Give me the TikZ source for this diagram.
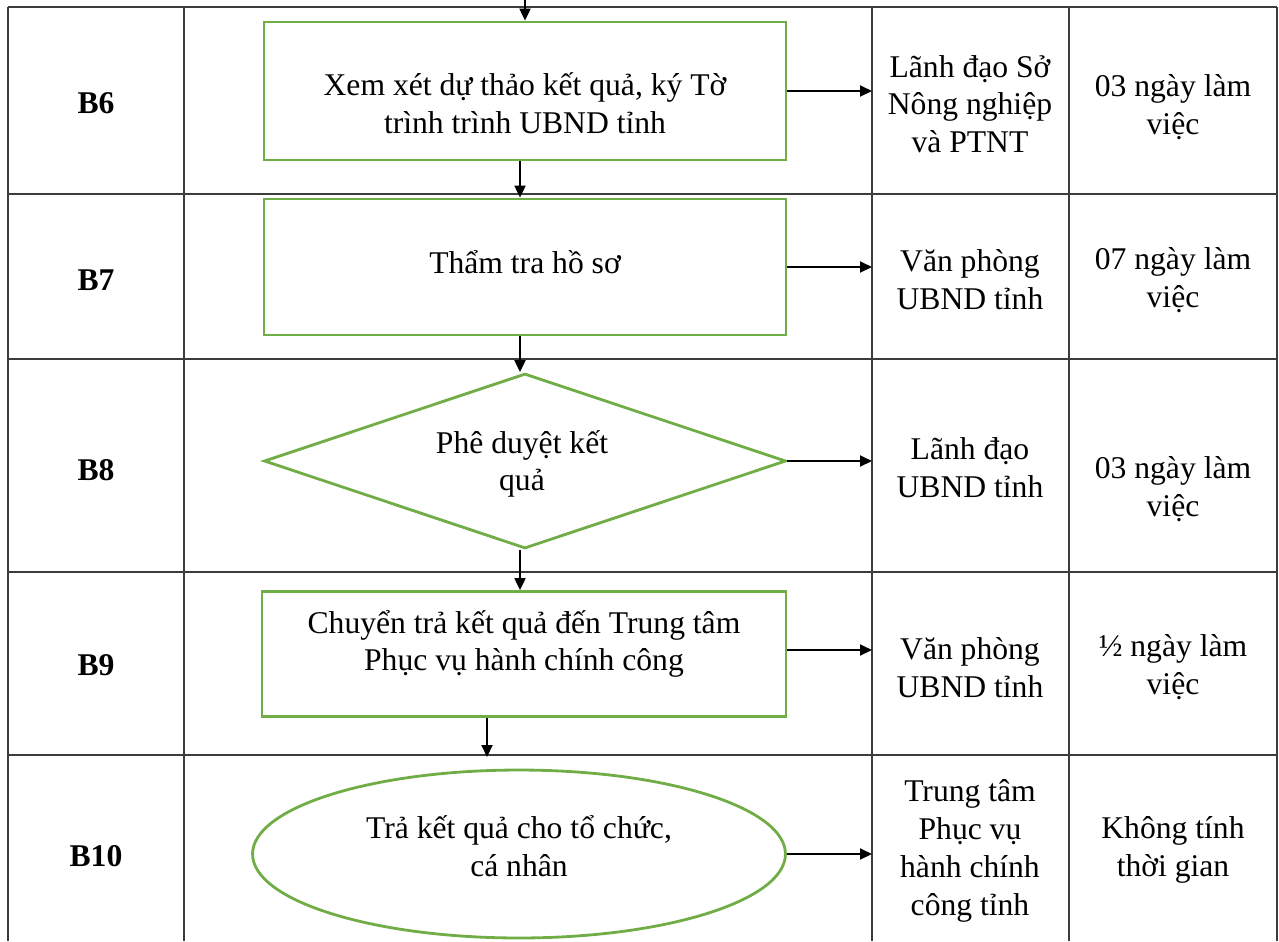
\documentclass[tikz,border=0pt]{standalone}
\usepackage{fontspec}
\setmainfont{Liberation Serif}
\usetikzlibrary{shapes.geometric,arrows.meta}

\definecolor{stepgreen}{RGB}{112,173,71}
\definecolor{gridgray}{RGB}{60,60,60}

\begin{document}
\begin{tikzpicture}[
  x=0.02cm, y=-0.02cm,
  every node/.style={font=\fontsize{18}{21.5}\selectfont, align=center},
  box/.style={draw=stepgreen, line width=1.6pt, rectangle, inner sep=0pt},
  decide/.style={draw=stepgreen, line width=1.6pt, diamond, inner sep=0pt},
  finish/.style={draw=stepgreen, line width=1.6pt, ellipse, inner sep=0pt},
  grid/.style={draw=gridgray, line width=1pt},
  arrow/.style={-{Triangle[length=0.24cm,width=0.22cm]}, line width=1.1pt},
  code/.style={font=\fontsize{18}{21.5}\selectfont\bfseries}
]
\useasboundingbox (0,0) rectangle (1279,941);

% Table grid
\foreach \gx in {8,184,872,1069,1277}
  \draw[grid] (\gx,7) -- (\gx,941);
\foreach \gy in {7,194,359,572,755}
  \draw[grid] (8,\gy) -- (1277,\gy);
\coordinate (col3) at (872,0);

% Step codes
\node[code] (b6) at (96,103) {B6};
\node[code] (b7) at (96,280) {B7};
\node[code] (b8) at (96,470) {B8};
\node[code] (b9) at (96,665) {B9};
\node[code] (b10) at (96,856) {B10};

% Flow shapes
\node[box, minimum width=10.44cm, minimum height=2.76cm] (s6) at (525,91) {};
\node[box, minimum width=10.44cm, minimum height=2.72cm] (s7) at (525,267) {};
\node[decide, minimum width=10.44cm, minimum height=3.5cm] (s8) at (525,461) {};
\node[box, minimum width=10.48cm, minimum height=2.5cm] (s9) at (524,654) {};
\node[finish, minimum width=10.66cm, minimum height=3.36cm] (s10) at (519,854) {};

% Shape texts
\node (t6) at (525,103) {Xem xét dự thảo kết quả, ký Tờ\\trình trình UBND tỉnh};
\node (t7) at (525,262) {Thẩm tra hồ sơ};
\node (t8) at (522,464) {Phê duyệt kết\\quả};
\node (t9) at (524,644) {Chuyển trả kết quả đến Trung tâm\\Phục vụ hành chính công};
\node (t10) at (519,846) {Trả kết quả cho tổ chức,\\cá nhân};

% Who does it
\node (who6) at (970,104) {Lãnh đạo Sở\\Nông nghiệp\\và PTNT};
\node (who7) at (970,280) {Văn phòng\\UBND tỉnh};
\node (who8) at (970,468) {Lãnh đạo\\UBND tỉnh};
\node (who9) at (970,668) {Văn phòng\\UBND tỉnh};
\node (who10) at (970,851) {Trung tâm\\Phục vụ\\hành chính\\công tỉnh};

% How long
\node (time6) at (1173,107) {03 ngày làm\\việc};
\node (time7) at (1173,280) {07 ngày làm\\việc};
\node (time8) at (1173,489) {03 ngày làm\\việc};
\node (time9) at (1173,667) {½ ngày làm\\việc};
\node (time10) at (1173,850) {Không tính\\thời gian};

% Arrows
\coordinate (top) at (525,0);
\coordinate (e10) at (487,757);
\draw[arrow] (top) -- (s6.north);
\draw[arrow] ([xshift=-0.1cm]s6.south) -- ([xshift=-0.1cm]s6.south |- s7.north);
\draw[arrow] ([xshift=-0.1cm]s7.south) -- ([xshift=-0.1cm]s7.south |- s8.north);
\draw[arrow] ([xshift=-0.1cm]s8.south) -- ([xshift=-0.1cm]s8.south |- s9.north);
\draw[arrow] (s9.south -| e10) -- (e10);

\draw[arrow] (s6.east) -- (s6.east -| col3);
\draw[arrow] (s7.east) -- (s7.east -| col3);
\draw[arrow] (s8.east) -- (s8.east -| col3);
\draw[arrow] ([yshift=0.08cm]s9.east) -- ([yshift=0.08cm]s9.east -| col3);
\draw[arrow] (s10.east) -- (s10.east -| col3);

\end{tikzpicture}
\end{document}
